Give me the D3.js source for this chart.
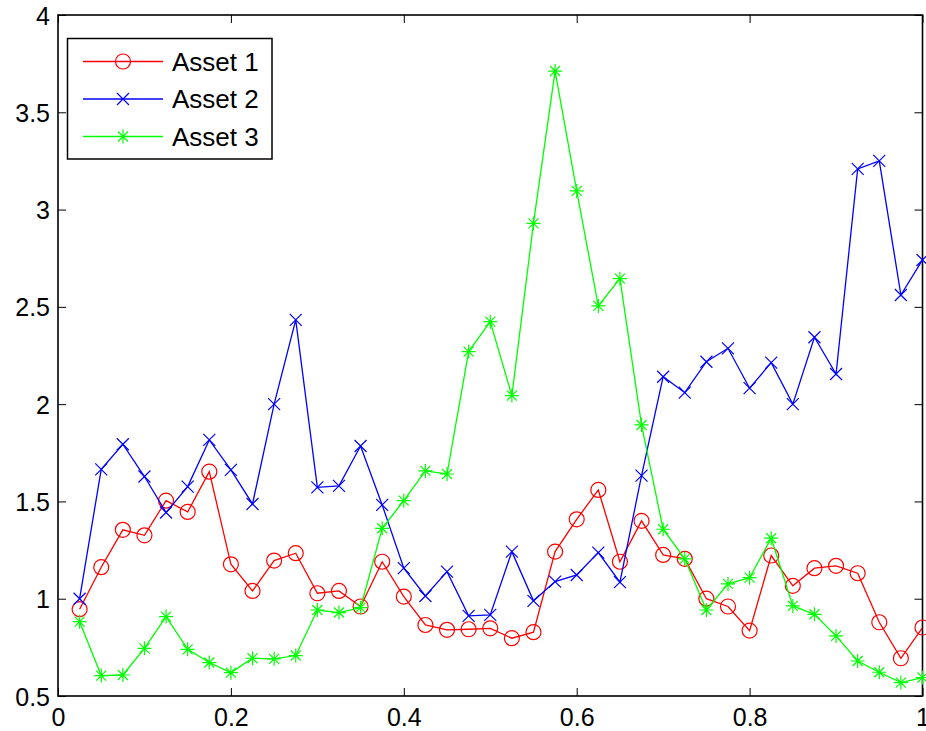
<!DOCTYPE html>
<html>
<head>
<meta charset="utf-8">
<script src="https://cdn.jsdelivr.net/npm/d3@7"></script>
<style>
  html, body { margin: 0; padding: 0; background: #fff; }
  svg { display: block; font-family: "Liberation Sans", Arial, Helvetica, sans-serif; }
</style>
</head>
<body>
<svg id="chart" width="926" height="731"></svg>
<script>
// Sample positions (0.025 … 1.0)
const xs = d3.range(1, 41).map(i => i / 40);

const asset1 = [0.946, 1.162, 1.354, 1.326, 1.504, 1.446, 1.653, 1.177, 1.040, 1.196,
                1.234, 1.028, 1.040, 0.960, 1.190, 1.011, 0.865, 0.840, 0.843, 0.848,
                0.797, 0.828, 1.242, 1.408, 1.559, 1.190, 1.400, 1.225, 1.205, 1.000,
                0.960, 0.836, 1.222, 1.066, 1.157, 1.169, 1.131, 0.879, 0.694, 0.852];

const asset2 = [1.000, 1.665, 1.794, 1.628, 1.443, 1.576, 1.816, 1.662, 1.487, 2.000,
                2.433, 1.572, 1.580, 1.785, 1.482, 1.157, 1.014, 1.139, 0.912, 0.917,
                1.242, 0.989, 1.088, 1.122, 1.237, 1.085, 1.633, 2.141, 2.059, 2.218,
                2.287, 2.082, 2.213, 2.000, 2.344, 2.155, 3.209, 3.250, 2.561, 2.741];

const asset3 = [0.882, 0.605, 0.608, 0.745, 0.908, 0.740, 0.672, 0.620, 0.694, 0.691,
                0.708, 0.942, 0.929, 0.954, 1.362, 1.504, 1.657, 1.641, 2.270, 2.424,
                2.044, 2.929, 3.712, 3.096, 2.505, 2.645, 1.893, 1.357, 1.205, 0.942,
                1.076, 1.108, 1.311, 0.963, 0.920, 0.809, 0.680, 0.622, 0.569, 0.595];

const seriesNames = ["Asset 1", "Asset 2", "Asset 3"];
const seriesColors = ["#ff0000", "#0000ff", "#00ff00"];
const seriesMarkers = ["circle", "cross", "star"];
const seriesValues = [asset1, asset2, asset3];

const xTicks = [0, 0.2, 0.4, 0.6, 0.8, 1];
const yTicks = [0.5, 1, 1.5, 2, 2.5, 3, 3.5, 4];

const svg = d3.select("#chart");
const margin = { left: 58, right: 3.5, top: 15, bottom: 35 };
const W = 926, H = 731;

const x = d3.scaleLinear().domain([0, 1]).range([margin.left, W - margin.right]);
const y = d3.scaleLinear().domain([0.5, 4]).range([H - margin.bottom, margin.top]);

const fmt = d => String(d);

const tickLen = 8;
const tickFont = "25px";
const axisGroup = svg.append("g");

// Inward ticks on all four sides
const bottomAxis = d3.axisBottom(x).tickValues(xTicks).tickSize(-tickLen).tickPadding(12).tickFormat(fmt);
const topAxis = d3.axisTop(x).tickValues(xTicks).tickSize(-tickLen).tickFormat("");
const leftAxis = d3.axisLeft(y).tickValues(yTicks).tickSize(-tickLen).tickPadding(8).tickFormat(fmt);
const rightAxis = d3.axisRight(y).tickValues(yTicks).tickSize(-tickLen).tickFormat("");

function styleAxis(g) {
  g.select(".domain").remove();
  g.selectAll(".tick line").attr("stroke", "#000").attr("stroke-width", 1);
  g.selectAll(".tick text").attr("fill", "#000").style("font-size", tickFont)
    .style("font-family", "\"Liberation Sans\", Arial, sans-serif");
}

axisGroup.append("g").attr("transform", `translate(0,${y(0.5)})`).call(bottomAxis).call(styleAxis)
  .selectAll(".tick text").attr("dy", "0.71em");
axisGroup.append("g").attr("transform", `translate(0,${y(4)})`).call(topAxis).call(styleAxis);
axisGroup.append("g").attr("transform", `translate(${x(0)},0)`).call(leftAxis).call(styleAxis)
  .selectAll(".tick text").attr("dy", "0.36em");
axisGroup.append("g").attr("transform", `translate(${x(1)},0)`).call(rightAxis).call(styleAxis);

// Plot frame
svg.append("rect")
  .attr("x", x(0)).attr("y", y(4))
  .attr("width", x(1) - x(0)).attr("height", y(0.5) - y(4))
  .attr("fill", "none").attr("stroke", "#000").attr("stroke-width", 1.6);

function drawMarker(g, type, color, cx, cy) {
  if (type === "circle") {
    g.append("circle").attr("cx", cx).attr("cy", cy).attr("r", 7.5)
      .attr("fill", "none").attr("stroke", color).attr("stroke-width", 1.2);
  } else if (type === "cross") {
    const s = 6;
    g.append("path")
      .attr("d", `M${cx - s},${cy - s}L${cx + s},${cy + s}M${cx - s},${cy + s}L${cx + s},${cy - s}`)
      .attr("stroke", color).attr("stroke-width", 1.2).attr("fill", "none");
  } else {
    const s = 7, d = 5;
    g.append("path")
      .attr("d", `M${cx - s},${cy}L${cx + s},${cy}M${cx},${cy - s}L${cx},${cy + s}` +
                 `M${cx - d},${cy - d}L${cx + d},${cy + d}M${cx - d},${cy + d}L${cx + d},${cy - d}`)
      .attr("stroke", color).attr("stroke-width", 1.2).attr("fill", "none");
  }
}

const line = d3.line().x(d => x(d[0])).y(d => y(d[1]));
const plot = svg.append("g");

seriesValues.forEach((vals, i) => {
  const pts = xs.map((xv, j) => [xv, vals[j]]);
  const g = plot.append("g");
  g.append("path").datum(pts).attr("d", line)
    .attr("fill", "none").attr("stroke", seriesColors[i]).attr("stroke-width", 1.3);
  pts.forEach(p => drawMarker(g, seriesMarkers[i], seriesColors[i], x(p[0]), y(p[1])));
});

// Legend
const legend = svg.append("g");
const lx = 67.5, ly = 38.5, lw = 204.5, lh = 120.5;
legend.append("rect").attr("x", lx).attr("y", ly).attr("width", lw).attr("height", lh)
  .attr("fill", "#fff").attr("stroke", "#000").attr("stroke-width", 1.5);
seriesNames.forEach((name, i) => {
  const ry = 61.5 + i * 37.5;
  legend.append("line").attr("x1", 83).attr("x2", 163).attr("y1", ry).attr("y2", ry)
    .attr("stroke", seriesColors[i]).attr("stroke-width", 1.3);
  drawMarker(legend, seriesMarkers[i], seriesColors[i], 123, ry);
  legend.append("text").attr("x", 172).attr("y", ry).attr("dy", "0.36em")
    .style("font-size", "26px").attr("fill", "#000").text(name);
});
</script>
</body>
</html>
